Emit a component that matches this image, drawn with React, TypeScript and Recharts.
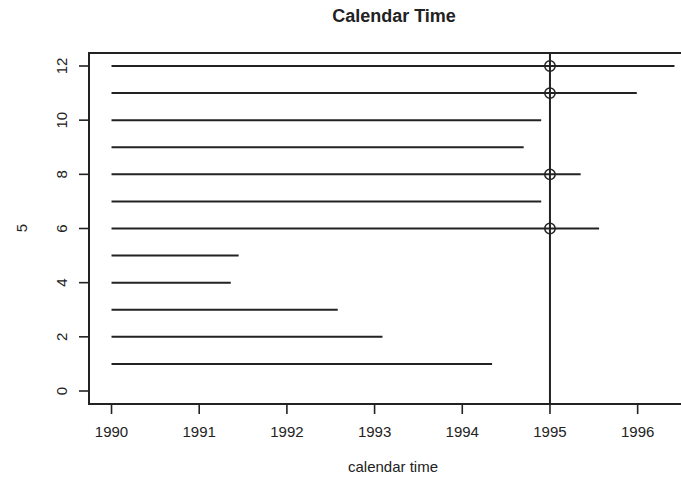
import { ComposedChart, XAxis, YAxis, ReferenceLine, ReferenceArea, Scatter } from 'recharts'

// follow-up per subject: entry year, exit year
const SUBJECTS = [1, 2, 3, 4, 5, 6, 7, 8, 9, 10, 11, 12]
const ENTRY = [1990, 1990, 1990, 1990, 1990, 1990, 1990, 1990, 1990, 1990, 1990, 1990]
const EXIT = [1994.34, 1993.09, 1992.58, 1991.36, 1991.45, 1995.56, 1994.9, 1995.35, 1994.7, 1994.9, 1995.99, 1996.42]
const CUTOFF = 1995

const X_TICKS = [1990, 1991, 1992, 1993, 1994, 1995, 1996]
const Y_TICKS = [0, 2, 4, 6, 8, 10, 12]

// R-style 4% padding around the data range
const xLo = Math.min(...ENTRY), xHi = Math.max(...EXIT)
const X_DOMAIN = [xLo - (xHi - xLo) * 0.04, xHi + (xHi - xLo) * 0.04]
const Y_DOMAIN = [0 - 12 * 0.04, 12 + 12 * 0.04]

const INK = '#222'
const FONT = '"Liberation Sans", Arial, Helvetica, sans-serif'

// subjects still under observation at the cutoff get a circle
const atCutoff = SUBJECTS.filter((_, i) => EXIT[i] > CUTOFF).map(s => ({ x: CUTOFF, y: s }))

function XTick({ x, y, payload }: any) {
  return (
    <text x={x} y={y} dy="0.71em" textAnchor="middle" fontSize={15} fill={INK} fontFamily={FONT}>
      {payload.value}
    </text>
  )
}

function YTick({ x, y, payload }: any) {
  return (
    <text x={x} y={y} textAnchor="middle" fontSize={15} fill={INK} fontFamily={FONT}
      transform={`rotate(-90, ${x}, ${y})`}>
      {payload.value}
    </text>
  )
}

function OpenCircle({ cx, cy }: any) {
  return <circle cx={cx} cy={cy} r={5.2} fill="none" stroke={INK} strokeWidth={1.5} />
}

export default function App() {
  return (
    <div style={{ position: 'absolute', left: 0, top: 0, width: 681, height: 479, overflow: 'hidden', background: '#fff' }}>
      <ComposedChart width={720} height={479} margin={{ top: 53, right: 23, bottom: 0, left: 0 }}>
        <XAxis
          type="number"
          dataKey="x"
          domain={X_DOMAIN}
          ticks={X_TICKS}
          allowDataOverflow
          height={75}
          axisLine={false}
          tickSize={10}
          tickMargin={12}
          tickLine={{ stroke: INK, strokeWidth: 1.6 }}
          tick={<XTick />}
          label={{ value: 'calendar time', position: 'insideBottom', offset: 7, fontSize: 15, fill: INK, fontFamily: FONT }}
        />
        <YAxis
          type="number"
          dataKey="y"
          domain={Y_DOMAIN}
          ticks={Y_TICKS}
          allowDataOverflow
          width={89}
          axisLine={false}
          tickSize={10}
          tickMargin={12}
          tickLine={{ stroke: INK, strokeWidth: 1.6 }}
          tick={<YTick />}
        />
        <ReferenceArea x1={X_DOMAIN[0]} x2={X_DOMAIN[1]} y1={Y_DOMAIN[0]} y2={Y_DOMAIN[1]}
          fill="none" stroke={INK} strokeWidth={2} ifOverflow="visible" />
        {SUBJECTS.map((s, i) => (
          <ReferenceLine key={s} segment={[{ x: ENTRY[i], y: s }, { x: EXIT[i], y: s }]}
            stroke={INK} strokeWidth={2} ifOverflow="visible" />
        ))}
        <ReferenceLine x={CUTOFF} stroke={INK} strokeWidth={2} />
        <Scatter data={atCutoff} shape={<OpenCircle />} isAnimationActive={false} />
      </ComposedChart>
      <svg width={681} height={479} style={{ position: 'absolute', left: 0, top: 0, pointerEvents: 'none' }}>
        <text x={394} y={21.5} textAnchor="middle" fontSize={18} fontWeight="bold" fill={INK} fontFamily={FONT}>
          Calendar Time
        </text>
        <text x={27} y={228} textAnchor="middle" fontSize={15} fill={INK} fontFamily={FONT}
          transform="rotate(-90, 27, 228)">
          5
        </text>
      </svg>
    </div>
  )
}
